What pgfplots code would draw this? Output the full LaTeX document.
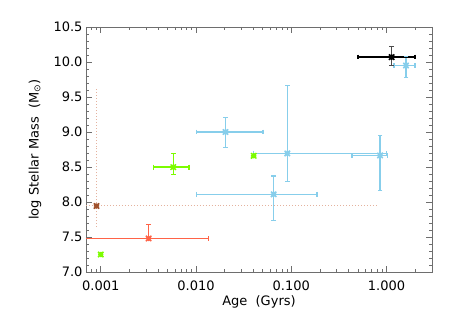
\documentclass[border=0pt]{standalone}
\usepackage{fontspec}
\setmainfont{DejaVu Sans}
\usepackage{pgfplots}
\pgfplotsset{compat=1.18}
\definecolor{cblue}{RGB}{135,206,235}
\definecolor{cgreen}{RGB}{124,252,0}
\definecolor{cred}{RGB}{255,99,71}
\definecolor{cbrown}{RGB}{160,82,45}
\definecolor{cdot}{RGB}{228,178,158}
\definecolor{axgray}{RGB}{110,110,110}
\pgfdeclareplotmark{ast8}{%
  \pgfpathmoveto{\pgfqpoint{-\pgfplotmarksize}{0pt}}\pgfpathlineto{\pgfqpoint{\pgfplotmarksize}{0pt}}%
  \pgfpathmoveto{\pgfqpoint{0pt}{-\pgfplotmarksize}}\pgfpathlineto{\pgfqpoint{0pt}{\pgfplotmarksize}}%
  \pgfpathmoveto{\pgfqpoint{-\pgfplotmarksize}{-\pgfplotmarksize}}\pgfpathlineto{\pgfqpoint{\pgfplotmarksize}{\pgfplotmarksize}}%
  \pgfpathmoveto{\pgfqpoint{-\pgfplotmarksize}{\pgfplotmarksize}}\pgfpathlineto{\pgfqpoint{\pgfplotmarksize}{-\pgfplotmarksize}}%
  \pgfusepathqstroke}
\pgfplotsset{
  hbar/.style={line width=1.4pt, mark=|, mark size=2.4bp, mark options={solid}},
  vbar/.style={line width=1.4pt, mark=-, mark size=2.4bp, mark options={solid}},
  pt/.style={only marks, mark=ast8, mark size=2.7bp, line width=1.5pt},
}
\begin{document}
\begin{tikzpicture}
\begin{axis}[
  scale only axis, width=346bp, height=245bp,
  xmode=log, xmin=0.0007, xmax=3, ymin=7.0, ymax=10.5,
  xtick={0.001,0.01,0.1,1},
  xticklabels={0.001,0.010,0.100,1.000},
  minor xtick={0.0007,0.0008,0.0009,0.002,0.003,0.004,0.005,0.006,0.007,0.008,0.009,0.02,0.03,0.04,0.05,0.06,0.07,0.08,0.09,0.2,0.3,0.4,0.5,0.6,0.7,0.8,0.9,2,3},
  ytick={7.0,7.5,8.0,8.5,9.0,9.5,10.0,10.5},
  minor y tick num=4,
  yticklabel style={/pgf/number format/.cd, fixed, precision=1, zerofill, assume math mode=true},
  xticklabel style={yshift=-5bp},
  tick align=inside,
  major tick length=6bp, minor tick length=3bp,
  axis line style={axgray, line width=0.6pt},
  every tick/.style={axgray, line width=0.6pt},
  font=\fontsize{13bp}{15bp}\selectfont,
  xlabel={Age\ \ (Gyrs)},
  ylabel={log\ Stellar\ Mass\ \ (M\textsubscript{⊙})},
  xlabel style={at={(axis description cs:0.5,-0.1204)}, anchor=center},
  ylabel style={at={(axis description cs:-0.1474,0.5)}, anchor=center, rotate=0},
  clip=true,
]
% brown dotted error bars
\addplot[cdot, dotted, line width=1pt] coordinates {(0.0007,7.943) (0.83,7.943)};
\addplot[cdot, dotted, line width=1pt] coordinates {(0.000902,7.64) (0.000902,9.61)};
% light blue
\addplot[cblue, hbar] coordinates {(1.20,9.95) (1.99,9.95)};
\addplot[cblue, vbar] coordinates {(1.60,9.78) (1.60,10.08)};
\addplot[cblue, hbar] coordinates {(0.01005,9.00) (0.0506,9.00)};
\addplot[cblue, vbar] coordinates {(0.0204,8.775) (0.0204,9.21)};
\addplot[cblue, hbar] coordinates {(0.040,8.694) (1.0,8.694)};
\addplot[cblue, vbar] coordinates {(0.0908,8.297) (0.0908,9.66)};
\addplot[cblue, hbar] coordinates {(0.432,8.665) (1.02,8.665)};
\addplot[cblue, vbar] coordinates {(0.855,8.168) (0.855,8.947)};
\addplot[cblue, hbar] coordinates {(0.0101,8.11) (0.186,8.11)};
\addplot[cblue, vbar] coordinates {(0.0653,7.737) (0.0653,8.373)};
\addplot[cblue, pt] coordinates {(1.60,9.95) (0.0204,9.00) (0.0908,8.694) (0.855,8.665) (0.0653,8.11)};
% black
\addplot[black, hbar] coordinates {(0.50,10.07) (1.99,10.07)};
\addplot[black!70, vbar] coordinates {(1.13,9.95) (1.13,10.22)};
\addplot[black, pt] coordinates {(1.13,10.07)};
% green
\addplot[cgreen, hbar] coordinates {(0.00356,8.498) (0.00842,8.498)};
\addplot[cgreen, vbar] coordinates {(0.00577,8.397) (0.00577,8.69)};
\addplot[cgreen, pt] coordinates {(0.00577,8.498) (0.0403,8.66) (0.001,7.25)};
% red
\addplot[cred, hbar, mark indices={2}] coordinates {(0.0007,7.479) (0.01343,7.479)};
\addplot[cred, vbar, mark indices={2}] coordinates {(0.00318,7.479) (0.00318,7.676)};
\addplot[cred, pt] coordinates {(0.00318,7.479)};
% brown
\addplot[cbrown, pt] coordinates {(0.000902,7.943)};
\end{axis}
\path[use as bounding box] (current axis.south west) ++(-86bp,-55bp) rectangle ([xshift=26bp,yshift=27bp]current axis.north east);
\end{tikzpicture}
\end{document}
